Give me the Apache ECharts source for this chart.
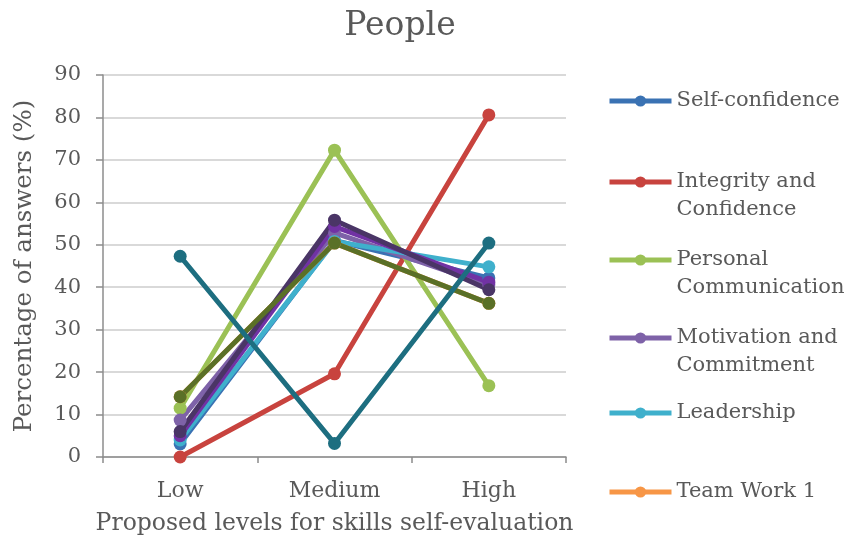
<!DOCTYPE html>
<html>
<head>
<meta charset="utf-8">
<script src="https://cdn.jsdelivr.net/npm/echarts@6/dist/echarts.min.js"></script>
<style>
  html, body { margin: 0; padding: 0; background: #ffffff; }
  #chart { width: 851px; height: 544px; }
</style>
</head>
<body>
<div id="chart"></div>
<script>
// Self-evaluation levels on the x axis
const levels = ['Low', 'Medium', 'High'];

// Share of answers (%) per skill at each level
const selfConfidence = [3.1, 51.0, 42.2];
const integrity = [0, 19.6, 80.6];
const personalCommunication = [11.5, 72.3, 16.8];
const motivation = [8.7, 52.8, 40.5];
const leadership = [4.0, 50.8, 44.8];
const teamWork1 = [14.2, 50.4, 36.2];
const teamWork2 = [5.0, 54.3, 41.2];
const responsibility = [6.0, 55.8, 39.4];
const adaptability = [14.2, 50.4, 36.2];
const initiative = [47.3, 3.2, 50.4];

// Names listed in the legend (two-line labels are broken by \n)
const legendNames = [
  'Self-confidence',
  'Integrity and\nConfidence',
  'Personal\nCommunication',
  'Motivation and\nCommitment',
  'Leadership',
  'Team Work 1'
];
// vertical centre of each legend icon
const legendRows = [101, 182, 260, 338, 413, 492];

const seriesDefs = [
  { name: legendNames[0], data: selfConfidence, color: '#3A72B3' },
  { name: legendNames[1], data: integrity, color: '#C8433E' },
  { name: legendNames[2], data: personalCommunication, color: '#9BC155' },
  { name: legendNames[3], data: motivation, color: '#7E62A8' },
  { name: legendNames[4], data: leadership, color: '#3FB0CC' },
  { name: legendNames[5], data: teamWork1, color: '#F79646' },
  { name: 'Team Work 2', data: teamWork2, color: '#7132A4' },
  { name: 'Responsibility', data: responsibility, color: '#4A3566' },
  { name: 'Adaptability', data: adaptability, color: '#5A7027' },
  { name: 'Initiative', data: initiative, color: '#1D6E80' }
];

const FONT = 'DejaVu Serif';
const TEXT = '#595959';
const LH = 28;

// one legend block per entry, so each row sits at its own height;
// two-line names get an empty first line so the icon lines up with the first text line
const legends = legendNames.map(function (name, i) {
  const twoLines = name.indexOf('\n') >= 0;
  return {
    data: [name],
    orient: 'vertical',
    left: 607,
    top: twoLines ? legendRows[i] - LH * 1.5 : legendRows[i] - LH / 2,
    padding: 0,
    itemGap: 0,
    itemWidth: 62,
    itemHeight: 14,
    lineStyle: { width: 5 },
    formatter: function (n) { return n.indexOf('\n') >= 0 ? '\u00a0\n' + n : n; },
    textStyle: { fontFamily: FONT, fontSize: 21, color: TEXT, lineHeight: LH }
  };
});

const chart = echarts.init(document.getElementById('chart'), null, { renderer: 'canvas' });

chart.setOption({
  backgroundColor: '#ffffff',
  animation: false,
  title: {
    text: 'People',
    left: 395,
    top: 5,
    textAlign: 'center',
    textStyle: { fontFamily: FONT, fontSize: 33, fontWeight: 'normal', color: TEXT }
  },
  legend: legends,
  grid: { left: 103, right: 285, top: 75, bottom: 87 },
  xAxis: {
    type: 'category',
    data: levels,
    boundaryGap: true,
    name: 'Proposed levels for skills self-evaluation',
    nameLocation: 'middle',
    nameGap: 55,
    nameTextStyle: { fontFamily: FONT, fontSize: 23.5, color: TEXT },
    axisLine: { lineStyle: { color: '#8c8c8c', width: 1.5 } },
    axisTick: { show: true, length: 6, lineStyle: { color: '#8c8c8c', width: 1.5 } },
    axisLabel: { fontFamily: FONT, fontSize: 22, color: TEXT, margin: 23 }
  },
  yAxis: {
    type: 'value',
    min: 0,
    max: 90,
    interval: 10,
    name: 'Percentage of answers (%)',
    nameLocation: 'middle',
    nameGap: 66,
    nameTextStyle: { fontFamily: FONT, fontSize: 24.5, color: TEXT },
    axisLine: { show: true, lineStyle: { color: '#8c8c8c', width: 1.5 } },
    axisTick: { show: true, length: 7, lineStyle: { color: '#8c8c8c', width: 1.5 } },
    axisLabel: { fontFamily: FONT, fontSize: 21, color: TEXT, margin: 22 },
    splitLine: { lineStyle: { color: '#d9d9d9', width: 2 } }
  },
  series: seriesDefs.map(function (s) {
    return {
      type: 'line',
      name: s.name,
      data: s.data,
      symbol: 'circle',
      symbolSize: 13,
      color: s.color,
      lineStyle: { width: 5, color: s.color },
      itemStyle: { color: s.color }
    };
  })
});
</script>
</body>
</html>
